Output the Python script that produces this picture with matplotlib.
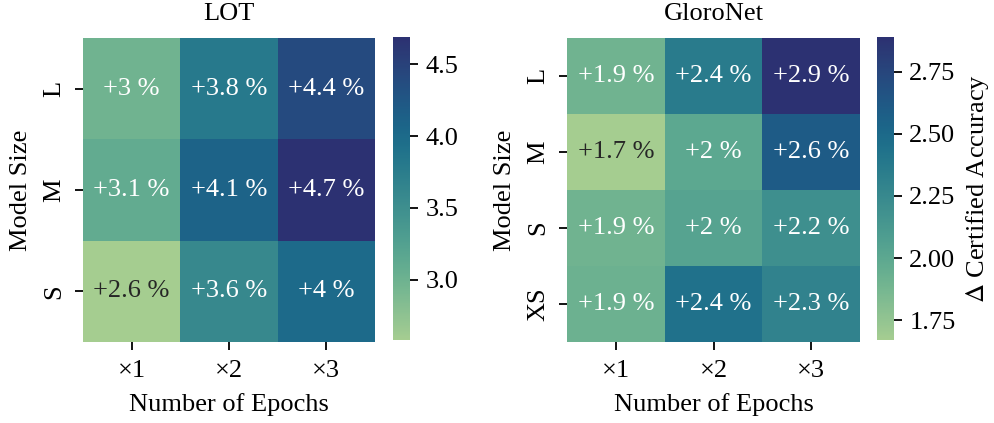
import numpy as np
import matplotlib
matplotlib.use("Agg")
import matplotlib.pyplot as plt
import seaborn as sns

epochs = ["×1", "×2", "×3"]
lot_sizes = ["L", "M", "S"]
lot_values = [
    [2.98, 3.80, 4.40],
    [3.10, 4.10, 4.69],
    [2.58, 3.60, 4.00],
]
gloro_sizes = ["L", "M", "S", "XS"]
gloro_values = [
    [1.90, 2.36, 2.89],
    [1.67, 2.00, 2.60],
    [1.90, 2.04, 2.20],
    [1.92, 2.44, 2.30],
]

plt.rcParams['font.family'] = ['Liberation Serif', 'DejaVu Serif']
plt.rcParams['mathtext.fontset'] = 'stix'
fs = 19

fig = plt.figure(figsize=(9.94, 4.23), dpi=100)
W, H = 994, 423
def ax_px(x0, y0, x1, y1):
    return fig.add_axes([x0 / W, 1 - y1 / H, (x1 - x0) / W, (y1 - y0) / H])

ax1 = ax_px(83, 38, 375, 342)
cax1 = ax_px(393, 37, 410, 340)
ax2 = ax_px(567, 38, 860, 342)
cax2 = ax_px(877, 37, 894, 340)

def labels(vals):
    return [[f"+{v:.2g} %" for v in row] for row in vals]

def draw(ax, cax, vals, sizes, title, cbar_label=None):
    arr = np.array(vals)
    sns.heatmap(arr, ax=ax, cbar_ax=cax, cmap="crest",
                annot=np.array(labels(vals)), fmt="",
                annot_kws={"fontsize": fs},
                xticklabels=epochs, yticklabels=sizes)
    ax.set_title(title, fontsize=fs, pad=13)
    ax.set_xlabel("Number of Epochs", fontsize=fs, labelpad=8)
    ax.set_ylabel("Model Size", fontsize=fs, labelpad=8)
    ax.tick_params(axis='both', labelsize=fs, length=6, width=1.3, pad=7)
    ax.set_xticklabels(epochs, rotation=0, fontsize=fs)
    ax.set_yticklabels(sizes, rotation=90, va='center', fontsize=fs)
    cb = ax.collections[0].colorbar
    cb.outline.set_visible(False)
    if cbar_label:
        cb.set_label(cbar_label, fontsize=fs, labelpad=6)
    return cb

cb1 = draw(ax1, cax1, lot_values, lot_sizes, "LOT")
cb2 = draw(ax2, cax2, gloro_values, gloro_sizes, "GloroNet", r"$\Delta$ Certified Accuracy")

cb1.set_ticks([3.0, 3.5, 4.0, 4.5], labels=["3.0", "3.5", "4.0", "4.5"])
cb2.set_ticks([1.75, 2.0, 2.25, 2.5, 2.75], labels=["1.75", "2.00", "2.25", "2.50", "2.75"])
cax1.tick_params(labelsize=fs, length=6, width=1.3, pad=5)
cax2.tick_params(labelsize=fs, length=6, width=1.3, pad=5)

fig.savefig("out.png", dpi=100)
